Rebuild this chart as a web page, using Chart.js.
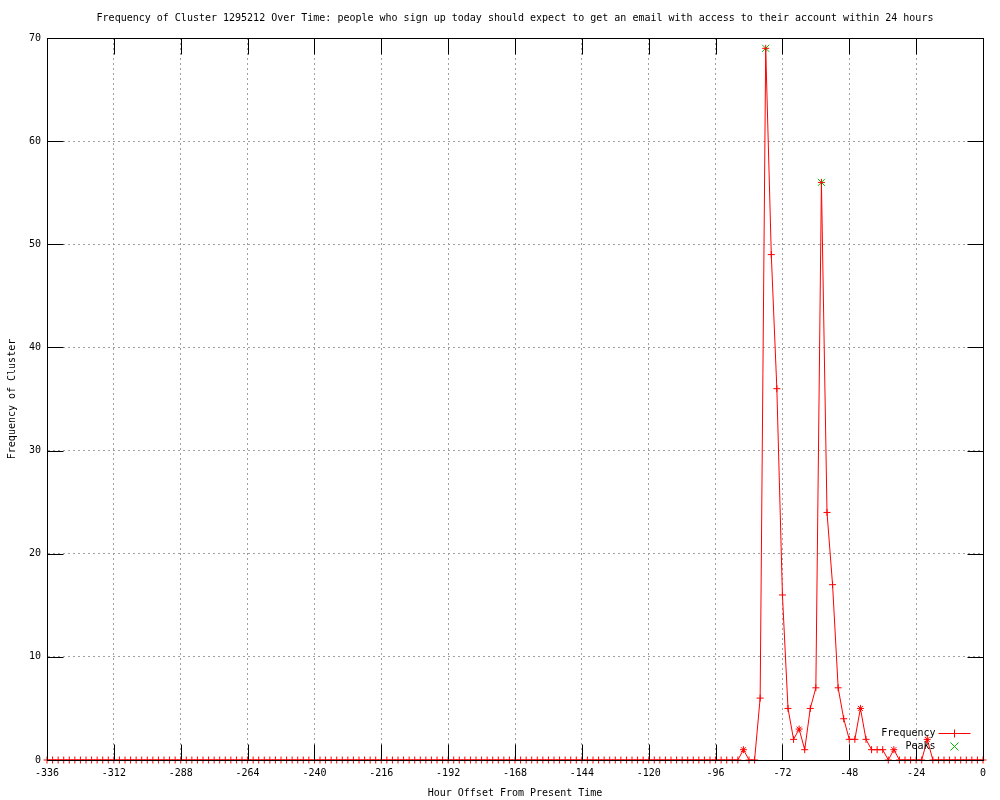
<!DOCTYPE html>
<html>
<head>
<meta charset="utf-8">
<title>Frequency of Cluster 1295212 Over Time</title>
<script src="https://cdn.jsdelivr.net/npm/chart.js@4/dist/chart.umd.min.js"></script>
<style>
  html, body { margin: 0; padding: 0; background: #fff; }
  #wrap { width: 1000px; height: 800px; }
</style>
</head>
<body>
<div id="wrap"><canvas id="freqChart" width="1000" height="800"></canvas></div>
<script>
/* Data */
// hour offsets, one point every 2 hours from -336 to 0
const hours = [];
for (let h = -336; h <= 0; h += 2) hours.push(h);

// frequency per 2-hour slot, one row = 24 hours
const frequency = [
    0, 0, 0, 0, 0, 0, 0, 0, 0, 0, 0, 0,       // -336 .. -314
    0, 0, 0, 0, 0, 0, 0, 0, 0, 0, 0, 0,       // -312 .. -290
    0, 0, 0, 0, 0, 0, 0, 0, 0, 0, 0, 0,       // -288 .. -266
    0, 0, 0, 0, 0, 0, 0, 0, 0, 0, 0, 0,       // -264 .. -242
    0, 0, 0, 0, 0, 0, 0, 0, 0, 0, 0, 0,       // -240 .. -218
    0, 0, 0, 0, 0, 0, 0, 0, 0, 0, 0, 0,       // -216 .. -194
    0, 0, 0, 0, 0, 0, 0, 0, 0, 0, 0, 0,       // -192 .. -170
    0, 0, 0, 0, 0, 0, 0, 0, 0, 0, 0, 0,       // -168 .. -146
    0, 0, 0, 0, 0, 0, 0, 0, 0, 0, 0, 0,       // -144 .. -122
    0, 0, 0, 0, 0, 0, 0, 0, 0, 0, 0, 0,       // -120 .. -98
    0, 0, 0, 0, 0, 1, 0, 0, 6, 69, 49, 36,    // -96 .. -74
    16, 5, 2, 3, 1, 5, 7, 56, 24, 17, 7, 4,   // -72 .. -50
    2, 2, 5, 2, 1, 1, 1, 0, 1, 0, 0, 0,       // -48 .. -26
    0, 0, 2, 0, 0, 0, 0, 0, 0, 0, 0, 0,       // -24 .. -2
    0                                         // 0
];

const peakHours = [-78, -58];
const peakValues = [69, 56];
// small local maxima that show as stars
const minorPeakHours = [-86, -66, -44, -32, -20];

const xTicks = [-336, -312, -288, -264, -240, -216, -192, -168, -144, -120, -96, -72, -48, -24, 0];
const yTicks = [0, 10, 20, 30, 40, 50, 60, 70];

const titleText = 'Frequency of Cluster 1295212 Over Time: people who sign up today should expect to get an email with access to their account within 24 hours';

/* Styling */
const MONO = "'DejaVu Sans Mono', 'Liberation Mono', monospace";
Chart.defaults.color = '#000';
Chart.defaults.font.family = MONO;
Chart.defaults.font.size = 10;

const freqPoints = hours.map((h, i) => ({ x: h, y: frequency[i] }));
const peakPoints = peakHours.map((h, i) => ({ x: h, y: peakValues[i] }));

// box round the plot, inward ticks on all four sides, and the key
const gnuplotFrame = {
    id: 'gnuplotFrame',
    afterDatasetsDraw(chart) {
        const { ctx, chartArea: a, scales } = chart;
        const L = Math.round(a.left) + 0.5, R = Math.round(a.right) + 0.5;
        const T = Math.round(a.top) + 0.5, B = Math.round(a.bottom) + 0.5;
        const tic = 16;
        ctx.save();
        ctx.setLineDash([]);
        ctx.strokeStyle = '#000000';
        ctx.lineWidth = 1;
        ctx.beginPath();
        xTicks.forEach(v => {
            const px = Math.round(scales.x.getPixelForValue(v)) + 0.5;
            ctx.moveTo(px, B); ctx.lineTo(px, B - tic);
            ctx.moveTo(px, T); ctx.lineTo(px, T + tic);
        });
        yTicks.forEach(v => {
            const py = Math.round(scales.y.getPixelForValue(v)) + 0.5;
            ctx.moveTo(L, py); ctx.lineTo(L + tic, py);
            ctx.moveTo(R, py); ctx.lineTo(R - tic, py);
        });
        ctx.stroke();
        ctx.strokeRect(L, T, R - L, B - T);
        ctx.restore();
    },
    afterDraw(chart) {
        const { ctx, chartArea: a } = chart;
        const R = Math.round(a.right) + 0.5, B = Math.round(a.bottom) + 0.5;
        const keyX = R - 48, y1 = B - 27, y2 = B - 14;
        ctx.save();
        ctx.setLineDash([]);
        ctx.lineWidth = 1;
        ctx.font = '10px ' + MONO;
        ctx.fillStyle = '#000000';
        ctx.textAlign = 'right';
        ctx.textBaseline = 'middle';
        ctx.fillText('Frequency', keyX, y1);
        ctx.fillText('Peaks', keyX, y2);

        ctx.strokeStyle = '#ff0000';
        ctx.beginPath();
        ctx.moveTo(keyX + 3, y1); ctx.lineTo(keyX + 35, y1);
        ctx.moveTo(keyX + 19, y1 - 4); ctx.lineTo(keyX + 19, y1 + 4);
        ctx.stroke();

        ctx.strokeStyle = '#00c000';
        ctx.beginPath();
        ctx.moveTo(keyX + 15, y2 - 4); ctx.lineTo(keyX + 23, y2 + 4);
        ctx.moveTo(keyX + 23, y2 - 4); ctx.lineTo(keyX + 15, y2 + 4);
        ctx.stroke();
        ctx.restore();
    }
};

/* Create chart */
const my_chart = new Chart('freqChart', {
    type: 'line',
    data: {
        datasets: [
            {
                label: 'Frequency',
                data: freqPoints,
                borderColor: '#ff0000',
                backgroundColor: '#ff0000',
                borderWidth: 1,
                tension: 0,
                clip: false,
                pointStyle: ctx => minorPeakHours.includes(ctx.raw && ctx.raw.x) ? 'star' : 'cross',
                pointRadius: 3.5,
                pointBorderColor: '#ff0000',
                pointBorderWidth: 1,
                pointHoverRadius: 3.5,
            },
            {
                label: 'Peaks',
                data: peakPoints,
                showLine: false,
                clip: false,
                borderColor: '#00c000',
                backgroundColor: '#00c000',
                pointStyle: 'crossRot',
                pointRadius: 5,
                pointBorderWidth: 1,
            }
        ]
    },
    options: {
        responsive: false,
        animation: false,
        events: [],
        layout: {
            padding: { left: 0, right: 17, top: 0, bottom: 0 }
        },
        scales: {
            x: {
                type: 'linear',
                min: -336,
                max: 0,
                afterBuildTicks: scale => { scale.ticks = xTicks.map(v => ({ value: v })); },
                grid: { color: '#a0a0a0', drawTicks: false },
                border: { color: '#000', dash: [2, 3] },
                ticks: { padding: 7, maxRotation: 0, autoSkip: false },
                title: {
                    display: true,
                    text: 'Hour Offset From Present Time',
                    padding: { top: 0, bottom: 1 }
                },
                afterFit: scale => { scale.height = 40; }
            },
            y: {
                type: 'linear',
                min: 0,
                max: 70,
                afterBuildTicks: scale => { scale.ticks = yTicks.map(v => ({ value: v })); },
                grid: { color: '#a0a0a0', drawTicks: false },
                border: { color: '#000', dash: [2, 3] },
                ticks: { padding: 6 },
                title: {
                    display: true,
                    text: 'Frequency of Cluster',
                    padding: { top: 6, bottom: 0 }
                },
                afterFit: scale => { scale.width = 47; }
            }
        },
        plugins: {
            title: {
                display: true,
                fullSize: false,
                text: titleText,
                font: { size: 10, weight: 'normal' },
                color: '#000',
                padding: { top: 12, bottom: 14 }
            },
            legend: { display: false },
            tooltip: { enabled: false }
        }
    },
    plugins: [gnuplotFrame]
});
</script>
</body>
</html>
